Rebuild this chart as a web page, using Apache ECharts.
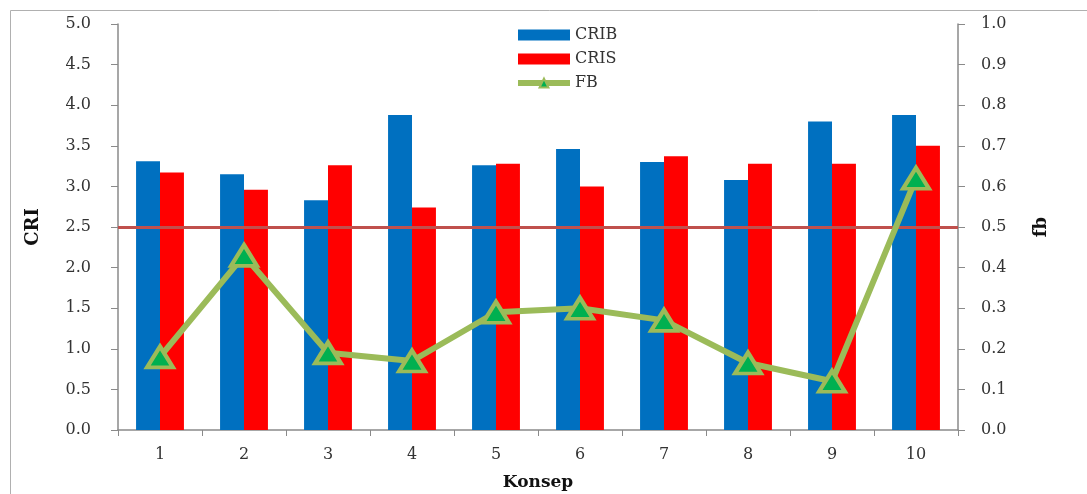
<!DOCTYPE html>
<html>
<head>
<meta charset="utf-8">
<script src="https://cdn.jsdelivr.net/npm/echarts@6.0.0/dist/echarts.min.js"></script>
<style>html,body{margin:0;padding:0;background:#fff;}#c{width:1087px;height:494px;}</style>
</head>
<body>
<div id="c"></div>
<script>
const categories = ['1','2','3','4','5','6','7','8','9','10'];
const crib = [3.31, 3.15, 2.83, 3.88, 3.26, 3.46, 3.30, 3.08, 3.80, 3.88];
const cris = [3.17, 2.96, 3.26, 2.74, 3.28, 3.00, 3.37, 3.28, 3.28, 3.50];
const fb = [0.18, 0.43, 0.19, 0.17, 0.29, 0.30, 0.27, 0.165, 0.12, 0.62];
const threshold = 2.5;

const font = 'DejaVu Serif';
const chart = echarts.init(document.getElementById('c'), null, {renderer: 'canvas'});
chart.setOption({
  animation: false,
  backgroundColor: '#fff',
  graphic: [{
    type: 'rect', shape: {x: 10.5, y: 10.5, width: 1200, height: 600},
    style: {fill: 'none', stroke: '#b0b0b0', lineWidth: 1}, silent: true, z: -10
  }],
  grid: {left: 118, right: 129, top: 24, bottom: 64, outerBoundsMode: 'none', containLabel: false},
  legend: {
    orient: 'vertical', left: 510, top: 22, itemWidth: 52, itemHeight: 11, itemGap: 8,
    textStyle: {fontFamily: font, fontSize: 16, color: '#333'},
    data: [
      {name: 'CRIB', icon: 'rect'},
      {name: 'CRIS', icon: 'rect'},
      {name: 'FB', lineStyle: {width: 6, color: '#9BBB59'}}
    ]
  },
  xAxis: {
    type: 'category', data: categories,
    name: 'Konsep', nameLocation: 'middle', nameGap: 44,
    nameTextStyle: {fontFamily: font, fontSize: 17, fontWeight: 'bold', color: '#111'},
    axisLine: {lineStyle: {color: '#8a8a8a', width: 1.5}},
    axisTick: {show: true, length: 6, lineStyle: {color: '#8a8a8a'}},
    axisLabel: {fontFamily: font, fontSize: 16, color: '#333', margin: 17}
  },
  yAxis: [{
    type: 'value', min: 0, max: 5, interval: 0.5,
    name: 'CRI', nameLocation: 'middle', nameGap: 76, nameRotate: 90,
    nameTextStyle: {fontFamily: font, fontSize: 18, fontWeight: 'bold', color: '#111'},
    axisLine: {show: true, lineStyle: {color: '#8a8a8a', width: 1.5}},
    axisTick: {show: true, length: 7, lineStyle: {color: '#8a8a8a'}},
    splitLine: {show: false},
    axisLabel: {fontFamily: font, fontSize: 16, color: '#333', margin: 27, formatter: v => v.toFixed(1)}
  }, {
    type: 'value', min: 0, max: 1, interval: 0.1, position: 'right',
    name: 'fb', nameLocation: 'middle', nameGap: 74, nameRotate: 90,
    nameTextStyle: {fontFamily: font, fontSize: 18, fontWeight: 'bold', color: '#111'},
    axisLine: {show: true, lineStyle: {color: '#8a8a8a', width: 1.5}},
    axisTick: {show: true, length: 7, lineStyle: {color: '#8a8a8a'}},
    splitLine: {show: false},
    axisLabel: {fontFamily: font, fontSize: 16, color: '#333', margin: 23, formatter: v => v.toFixed(1)}
  }],
  series: [{
    name: 'CRIB', type: 'bar', data: crib, barGap: '0%', barCategoryGap: '43%',
    itemStyle: {color: '#0070C0'},
    markLine: {
      silent: true, symbol: ['none', 'none'], label: {show: false},
      lineStyle: {color: '#C0504D', width: 3, type: 'solid'},
      data: [{yAxis: threshold}]
    }
  }, {
    name: 'CRIS', type: 'bar', data: cris,
    itemStyle: {color: '#FF0000'}
  }, {
    name: 'FB', type: 'line', yAxisIndex: 1, data: fb,
    symbol: 'triangle', symbolSize: [26, 21], z: 5,
    lineStyle: {color: '#9BBB59', width: 6},
    itemStyle: {color: '#00B050', borderColor: '#9BBB59', borderWidth: 4}
  }]
});
</script>
</body>
</html>
